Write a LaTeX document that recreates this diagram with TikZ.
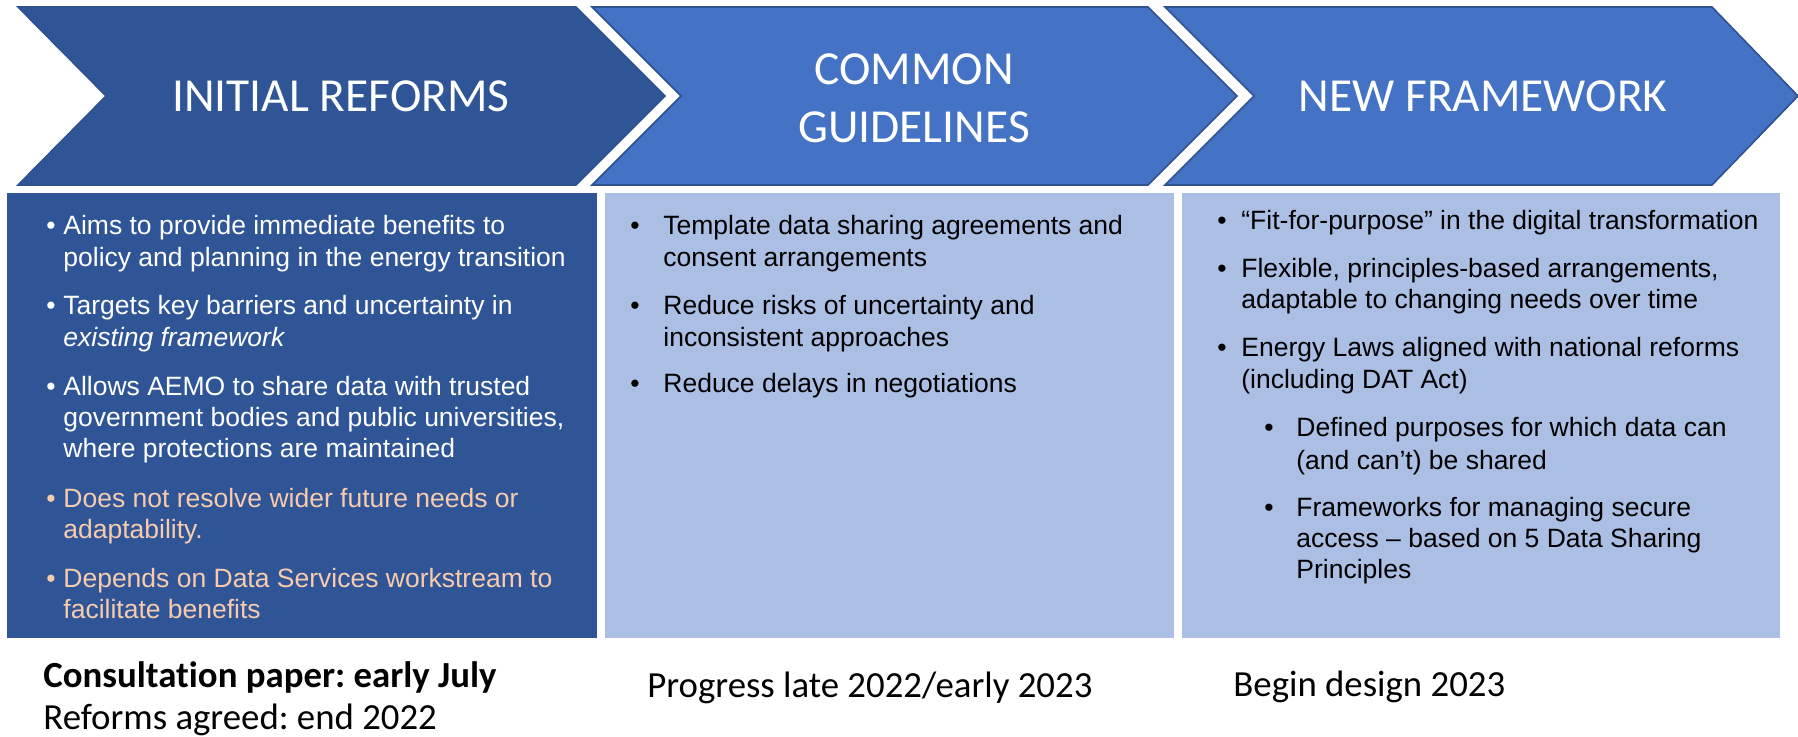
\documentclass[tikz,border=0pt]{standalone}
\usepackage{fontspec}
\setmainfont{Liberation Sans}
\newfontfamily\calfont[Ligatures={NoCommon}]{Carlito}
\frenchspacing
\definecolor{navy}{HTML}{2F5597}
\definecolor{midblue}{HTML}{4472C4}
\definecolor{edgeblue}{HTML}{2F528F}
\definecolor{paleblue}{HTML}{ABBFE5}
\definecolor{peach}{HTML}{F8CBAD}

\begin{document}
\begin{tikzpicture}[x=0.5pt,y=-0.5pt,
  chev/.style={draw=edgeblue, line width=0.8pt, line join=miter},
  title/.style={font=\calfont\fontsize{23.7}{29}\selectfont, text=white, anchor=base, inner sep=0},
  body/.style={font=\fontsize{13.25}{16}\selectfont, anchor=base west, inner sep=0},
  light/.style={body, text=white},
  warm/.style={body, text=peach},
  dark/.style={body, text=black},
  foot/.style={font=\calfont\fontsize{18.4}{22}\selectfont, anchor=base west, inner sep=0}]
\useasboundingbox (0,0) rectangle (1798,737);
\fill[white] (0,0) rectangle (1798,737);

% stage chevrons
\path[chev, fill=navy] (18,7) -- (576,7) -- (665,96) -- (576,185) -- (18,185) -- (106,96) -- cycle;
\path[chev, fill=midblue] (592,7) -- (1148,7) -- (1237,96) -- (1148,185) -- (592,185) -- (681,96) -- cycle;
\path[chev, fill=midblue] (1165,7) -- (1712,7) -- (1798,96) -- (1712,185) -- (1165,185) -- (1254,96) -- cycle;

\node[title] (t1) at (341,112) {INITIAL REFORMS};
\node[title] (t2a) at (914,85) {COMMON};
\node[title] (t2b) at (914,143) {GUIDELINES};
\node[title] (t3) at (1483,112) {NEW FRAMEWORK};

% detail panels
\fill[navy] (7,193) rectangle (597,638);
\fill[paleblue] (605,193) rectangle (1174,638);
\fill[paleblue] (1182,193) rectangle (1780,638);

% panel 1
\node[light] (b1) at (46,235) {\textbullet};
\node[light] (l1a) at (63,235) {Aims to provide immediate benefits to};
\node[light] (l1b) at (63,267) {policy and planning in the energy transition};
\node[light] (b2) at (46,315) {\textbullet};
\node[light] (l2a) at (63,315) {Targets key barriers and uncertainty in};
\node[light] (l2b) at (63,347) {\itshape existing framework};
\node[light] (b3) at (46,395) {\textbullet};
\node[light] (l3a) at (63,395) {Allows AEMO to share data with trusted};
\node[light] (l3b) at (63,427) {government bodies and public universities,};
\node[light] (l3c) at (63,458) {where protections are maintained};
\node[warm] (b4) at (46,507) {\textbullet};
\node[warm] (l4a) at (63,507) {Does not resolve wider future needs or};
\node[warm] (l4b) at (63,538) {adaptability.};
\node[warm] (b5) at (46,587) {\textbullet};
\node[warm] (l5a) at (63,587) {Depends on Data Services workstream to};
\node[warm] (l5b) at (63,618) {facilitate benefits};

% panel 2
\node[dark] (c1) at (630,235) {\textbullet};
\node[dark] (m1a) at (663,235) {Template data sharing agreements and};
\node[dark] (m1b) at (663,267) {consent arrangements};
\node[dark] (c2) at (630,315) {\textbullet};
\node[dark] (m2a) at (663,315) {Reduce risks of uncertainty and};
\node[dark] (m2b) at (663,347) {inconsistent approaches};
\node[dark] (c3) at (630,393) {\textbullet};
\node[dark] (m3a) at (663,393) {Reduce delays in negotiations};

% panel 3
\node[dark] (d1) at (1217,230) {\textbullet};
\node[dark] (n1a) at (1241,230) {“Fit-for-purpose” in the digital transformation};
\node[dark] (d2) at (1217,278) {\textbullet};
\node[dark] (n2a) at (1241,278) {Flexible, principles-based arrangements,};
\node[dark] (n2b) at (1241,309) {adaptable to changing needs over time};
\node[dark] (d3) at (1217,357) {\textbullet};
\node[dark] (n3a) at (1241,357) {Energy Laws aligned with national reforms};
\node[dark] (n3b) at (1241,389) {(including DAT Act)};
\node[dark] (d4) at (1264,437) {\textbullet};
\node[dark] (n4a) at (1296,437) {Defined purposes for which data can};
\node[dark] (n4b) at (1296,469) {(and can’t) be shared};
\node[dark] (d5) at (1264,516) {\textbullet};
\node[dark] (n5a) at (1296,516) {Frameworks for managing secure};
\node[dark] (n5b) at (1296,547) {access – based on 5 Data Sharing};
\node[dark] (n5c) at (1296,578) {Principles};

% timing notes
\node[foot] (f1a) at (43,687) {\bfseries Consultation paper: early July};
\node[foot] (f1b) at (43,729) {Reforms agreed: end 2022};
\node[foot] (f2) at (647,697) {Progress late 2022/early 2023};
\node[foot] (f3) at (1233,696) {Begin design 2023};
\end{tikzpicture}
\end{document}
